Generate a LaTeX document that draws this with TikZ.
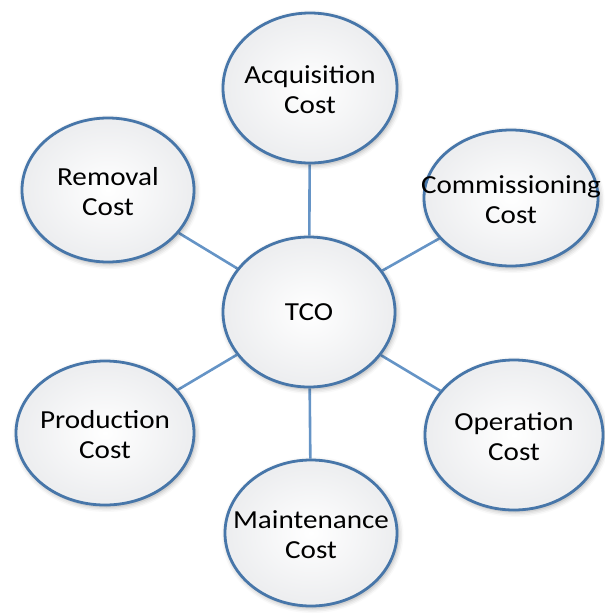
\documentclass[tikz,border=0pt]{standalone}
\usepackage{fontspec}
\setmainfont{Carlito}[FakeStretch=1.12]
\usetikzlibrary{shapes.geometric,shadows.blur,backgrounds}
\definecolor{rim}{HTML}{4776A9}
\definecolor{link}{HTML}{6594C6}
\definecolor{fillgray}{HTML}{ECEDEF}
\tikzset{
  bubble/.style={ellipse, draw=rim, line width=2.8pt, inner sep=0pt,
    inner color=white, outer color=fillgray,
    blur shadow={shadow xshift=1.5pt, shadow yshift=-2pt, shadow blur radius=5pt, shadow opacity=35}},
  btext/.style={align=center, font=\fontsize{26}{30}\selectfont, text=black, inner sep=0pt},
  spoke/.style={draw=link, line width=2.6pt}
}
\begin{document}
\begin{tikzpicture}[x=1pt,y=-1pt]
\useasboundingbox (0,0) rectangle (605,614);
\node[bubble, minimum width=172pt, minimum height=150pt] (tco) at (309,312) {};
\node[bubble, minimum width=174pt, minimum height=150pt] (acq) at (310,88) {};
\node[bubble, minimum width=174pt, minimum height=136pt] (com) at (511,198) {};
\node[bubble, minimum width=172pt, minimum height=144pt] (rem) at (108,190) {};
\node[bubble, minimum width=178pt, minimum height=144pt] (pro) at (105,433) {};
\node[bubble, minimum width=178pt, minimum height=150pt] (ope) at (514,435) {};
\node[bubble, minimum width=172pt, minimum height=146pt] (mai) at (311,533) {};
\begin{scope}[on background layer]
\draw[spoke] (tco) -- (acq);
\draw[spoke] (tco) -- (com);
\draw[spoke] (tco) -- (rem);
\draw[spoke] (tco) -- (pro);
\draw[spoke] (tco) -- (ope);
\draw[spoke] (tco) -- (mai);
\end{scope}
\node[btext] (ttco) at (tco.center) {TCO};
\node[btext] (tacq) at ([yshift=-2pt]acq.center) {Acquisition\\Cost};
\node[btext] (tcom) at ([yshift=-2pt]com.center) {Commissioning\\Cost};
\node[btext] (trem) at ([yshift=-2pt]rem.center) {Removal\\Cost};
\node[btext] (tpro) at ([yshift=-2pt]pro.center) {Production\\Cost};
\node[btext] (tope) at ([yshift=-2pt]ope.center) {Operation\\Cost};
\node[btext] (tmai) at ([yshift=-2pt]mai.center) {Maintenance\\Cost};
\end{tikzpicture}
\end{document}
